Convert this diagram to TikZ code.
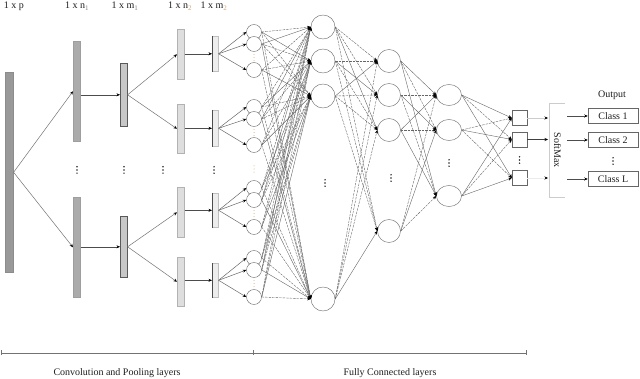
\documentclass[tikz,border=0pt]{standalone}
\usepackage{fontspec}
\setmainfont{Liberation Serif}
\usetikzlibrary{arrows.meta,shapes.geometric}
\definecolor{tandot}{RGB}{205,165,115}
\definecolor{txt}{RGB}{30,30,30}
\newcommand{\mydots}[4]{% x, y, colour, radius
  \fill[#3] (#1,#2-3.2) circle (#4);
  \fill[#3] (#1,#2) circle (#4);
  \fill[#3] (#1,#2+3.2) circle (#4);}
\begin{document}
\begin{tikzpicture}[x=1pt,y=-1pt,
  lbl/.style={font=\fontsize{10}{12}\selectfont, text=txt, inner sep=0pt},
  bar/.style={anchor=north west, inner sep=0pt, line width=0.6pt, minimum width=7pt},
  conn/.style={draw=black!60, line width=0.4pt, -{Stealth[black,length=3.5pt,width=3pt]}},
  dconn/.style={conn, dash pattern=on 2.5pt off 1pt},
  arr/.style={draw=black!70, line width=0.5pt, -{Stealth[black,length=3.5pt,width=3pt]}},
  sn/.style={circle, draw=black!55, fill=white, line width=0.45pt, minimum size=15pt, inner sep=0pt},
  bn/.style={circle, draw=black!55, fill=white, line width=0.45pt, minimum size=24pt, inner sep=0pt},
  en/.style={ellipse, draw=black!55, fill=white, line width=0.45pt, minimum width=25pt, minimum height=21pt, inner sep=0pt},
  sq/.style={rectangle, draw=black!60, fill=white, line width=0.5pt, minimum size=15pt, inner sep=0pt},
  cls/.style={rectangle, draw=black!60, line width=0.5pt, minimum width=50pt, minimum height=15pt, inner sep=0pt, font=\fontsize{10}{12}\selectfont, text=txt}
]
\useasboundingbox (0,0) rectangle (640,379);

% top labels
\node[lbl] (lp) at (14,6) {1 x p};
\node[lbl] (ln1) at (77,6) {1 x n\textsubscript{\color{black!50}1}};
\node[lbl] (lm1) at (125,6) {1 x m\textsubscript{\color{black!50}1}};
\node[lbl] (ln2) at (180,6) {1 x n\textsubscript{\color{tandot}2}};
\node[lbl] (lm2) at (214,6) {1 x m\textsubscript{\color{tandot}2}};

% bars
\node[bar, minimum width=8pt, minimum height=200pt, fill=black!40, draw=black!45] (inp) at (5,72) {};
\node[bar, minimum height=100pt, fill=black!33, draw=black!38] (c1a) at (73,41) {};
\node[bar, minimum height=100pt, fill=black!33, draw=black!38] (c1b) at (73,197) {};
\node[bar, minimum height=63pt, fill=black!22, draw=black!65] (p1a) at (120,63) {};
\node[bar, minimum height=61pt, fill=black!22, draw=black!65] (p1b) at (120,216) {};
\node[bar, minimum height=50pt, fill=black!13, draw=black!30] (c2a) at (177,29) {};
\node[bar, minimum height=49pt, fill=black!13, draw=black!30] (c2b) at (177,104) {};
\node[bar, minimum height=50pt, fill=black!13, draw=black!30] (c2c) at (177,187) {};
\node[bar, minimum height=49pt, fill=black!13, draw=black!30] (c2d) at (177,257) {};
\node[bar, minimum width=6pt, minimum height=35pt, fill=black!7, draw=black!25] (p2a) at (212,36) {};
\node[bar, minimum width=6pt, minimum height=36pt, fill=black!7, draw=black!25] (p2b) at (212,110) {};
\node[bar, minimum width=6pt, minimum height=34pt, fill=black!7, draw=black!25] (p2c) at (212,193) {};
\node[bar, minimum width=6pt, minimum height=34pt, fill=black!7, draw=black!25] (p2d) at (212,263) {};
\foreach \b in {p2a,p2b,p2c,p2d}{\draw[black!70, line width=0.7pt] (\b.north west) -- (\b.south west);}

% bar arrows
\draw[arr, draw=black!55] (inp.east) -- (c1a.west);
\draw[arr, draw=black!55] (inp.east) -- (c1b.west);
\draw[arr] (p1a.west -| c1a.east) -- (p1a.west);
\draw[arr] (p1b.west -| c1b.east) -- (p1b.west);
\draw[arr, draw=black!55] (p1a.east) -- (c2a.west);
\draw[arr, draw=black!55] (p1a.east) -- (c2b.west);
\draw[arr, draw=black!55] (p1b.east) -- (c2c.west);
\draw[arr, draw=black!55] (p1b.east) -- (c2d.west);
\draw[arr] (p2a.west -| c2a.east) -- (p2a.west);
\draw[arr] (p2b.west -| c2b.east) -- (p2b.west);
\draw[arr] (p2c.west -| c2c.east) -- (p2c.west);
\draw[arr] (p2d.west -| c2d.east) -- (p2d.west);

% dots in conv part
\mydots{77}{170}{black!85}{0.8}
\mydots{124}{170}{black!85}{0.8}
\mydots{163}{170}{black!85}{0.8}
\mydots{214}{170}{black!85}{0.8}
\mydots{254}{169}{tandot}{0.5}

% small neurons
\node[sn] (s1) at (254,32) {};
\node[sn] (s2) at (254,44) {};
\node[sn] (s3) at (254,70) {};
\node[sn] (s4) at (254,107) {};
\node[sn] (s5) at (254,119) {};
\node[sn] (s6) at (254,145) {};
\node[sn] (s7) at (254,188) {};
\node[sn] (s8) at (254,200) {};
\node[sn] (s9) at (254,227) {};
\node[sn] (s10) at (254,258) {};
\node[sn] (s11) at (254,270) {};
\node[sn] (s12) at (254,297) {};
\mydots{254}{57.5}{tandot}{0.5}
\mydots{254}{132.5}{tandot}{0.5}
\mydots{254}{213.5}{tandot}{0.5}
\mydots{254}{283.5}{tandot}{0.5}

\foreach \i in {1,2,3}{\draw[arr, draw=black!60] (p2a.east) -- (s\i.west);}
\foreach \i in {4,5,6}{\draw[arr, draw=black!60] (p2b.east) -- (s\i.west);}
\foreach \i in {7,8,9}{\draw[arr, draw=black!60] (p2c.east) -- (s\i.west);}
\foreach \i in {10,11,12}{\draw[arr, draw=black!60] (p2d.east) -- (s\i.west);}

% fully connected layers
\node[bn] (f1) at (323,27) {};
\node[bn] (f2) at (323,61) {};
\node[bn] (f3) at (323,96) {};
\node[bn] (f4) at (323,299) {};
\mydots{325}{183}{black!85}{0.8}

\node[bn, minimum size=23pt] (g1) at (389,61) {};
\node[bn, minimum size=23pt] (g2) at (389,95) {};
\node[bn, minimum size=23pt] (g3) at (389,130) {};
\node[bn, minimum size=23pt] (g4) at (389,231) {};
\mydots{391}{178}{black!85}{0.8}

\node[en] (h1) at (449,95) {};
\node[en] (h2) at (449,130) {};
\node[en] (h3) at (449,196) {};
\mydots{449}{163}{black!85}{0.8}

\node[sq] (o1) at (519.5,118) {};
\node[sq] (o2) at (519.5,139.5) {};
\node[sq] (o3) at (519.5,178) {};
\mydots{519.5}{160}{black!85}{0.8}

% connections
\foreach \i in {1,...,12}{
  \foreach \j in {1,...,4}{
    \pgfmathtruncatemacro\k{mod(\i+\j,3)}
    \ifnum\k=0 \draw[conn] (s\i.east) -- (f\j.west);
    \else \draw[dconn] (s\i.east) -- (f\j.west); \fi
  }
}
\foreach \i in {1,...,4}{
  \foreach \j in {1,...,4}{
    \pgfmathtruncatemacro\k{mod(\i+\j,4)}
    \ifnum\k=0 \draw[conn] (f\i.east) -- (g\j.west);
    \else \draw[dconn] (f\i.east) -- (g\j.west); \fi
  }
}
\foreach \i in {1,...,4}{
  \foreach \j in {1,2,3}{
    \pgfmathtruncatemacro\k{mod(\i+\j,2)}
    \ifnum\k=0 \draw[conn] (g\i.east) -- (h\j.west);
    \else \draw[dconn] (g\i.east) -- (h\j.west); \fi
  }
}
\foreach \i in {1,2,3}{
  \foreach \j in {1,2,3}{
    \pgfmathtruncatemacro\k{mod(\i+\j,2)}
    \ifnum\k=0 \draw[conn] (h\i.east) -- (o\j.west);
    \else \draw[dconn] (h\i.east) -- (o\j.west); \fi
  }
}

% softmax
\coordinate (sa1) at (548,118);
\coordinate (sa2) at (548,139.5);
\coordinate (sa3) at (548,178);
\draw[arr, draw=black!20] (o1.east) -- (sa1);
\draw[arr, draw=black!75] (o2.east) -- (sa2);
\draw[arr, draw=black!8] (o3.east) -- (sa3);
\coordinate (sm1) at (565,103);
\coordinate (sm2) at (549.5,103);
\coordinate (sm3) at (549.5,197);
\coordinate (sm4) at (565,197);
\draw[black!20, line width=0.6pt] (sm1) -- (sm2) -- (sm3) -- (sm4);
\node[lbl, rotate=-90] (smx) at (557.5,150) {SoftMax};

\node[cls] (k1) at (613,116) {Class 1};
\node[cls] (k2) at (613,140) {Class 2};
\node[cls] (k3) at (613,179) {Class L};
\mydots{613}{161}{black!85}{0.8}
\node[lbl] (out) at (612,95) {Output};
\coordinate (sb1) at (567,116);
\coordinate (sb2) at (567,140);
\coordinate (sb3) at (567,179);
\draw[arr] (sb1) -- (k1.west);
\draw[arr] (sb2) -- (k2.west);
\draw[arr] (sb3) -- (k3.west);

% bottom scale
\coordinate (b0) at (1,353);
\coordinate (b1) at (254,353);
\coordinate (b2) at (527,353);
\draw[black!55, line width=0.6pt, {Bar[width=5pt]}-{Bar[width=5pt]}] (b0) -- (b1);
\draw[black!55, line width=0.6pt, -{Bar[width=5pt]}] (b1) -- (b2);
\node[lbl] (cpl) at (117,373) {Convolution and Pooling layers};
\node[lbl] (fcl) at (390,373) {Fully Connected layers};
\end{tikzpicture}
\end{document}
